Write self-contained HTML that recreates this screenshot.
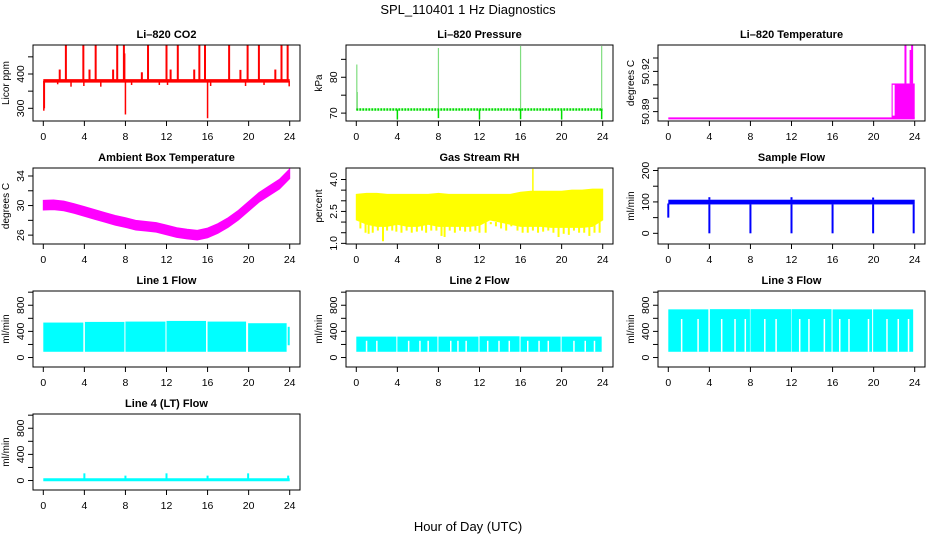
<!DOCTYPE html>
<html><head><meta charset="utf-8"><style>
html,body{margin:0;padding:0;background:#fff;}
svg{display:block;font-family:"Liberation Sans",Helvetica,sans-serif;}
.pt{font-size:11px;font-weight:bold;text-anchor:middle;}
.tk{font-size:10.5px;text-anchor:middle;}
.yl{font-size:10px;text-anchor:middle;}
</style></head><body>
<svg id="chart" width="936" height="540" viewBox="0 0 936 540">
<text x="468" y="14" style="font-size:13px" text-anchor="middle">SPL_110401  1 Hz Diagnostics</text>
<text x="468" y="531" style="font-size:13px" text-anchor="middle">Hour of Day (UTC)</text>
</svg>
<script>
// ---- data ----
const xTicks = [0,4,8,12,16,20,24];
// CO2
const co2Base = 380;
const co2SpikeHours = [2.2,3.9,5.1,7.2,7.85,10.2,12.0,13.1,15.2,15.75,18.1,19.9,21.0,23.2,23.8];
const co2SpikeTops = [484,484,484,484,484,484,484,484,484,484,484,484,484,484,484];
const co2SmallHours = [1.6,4.5,6.8,9.6,12.4,14.7,19.2,22.6,7.9];
const co2SmallTops = [413,413,413,405,413,413,412,413,460];
const co2DipHours = [0.05,0.1,1.4,2.7,3.95,5.6,8.0,8.6,11.3,12.1,16.0,16.3,19.7,21.5,23.95];
const co2DipLows = [293,300,370,363,365,363,282,368,368,368,271,365,365,368,364];
// Pressure
const presBase = 71;
const presSpikeHours = [0.05,0.1,8.0,16.0,23.9];
const presSpikeTops = [83.5,76,88.3,89,88.6];
const presDipHours = [4,8,12,16,20,23.9];
const presDipLows = [68.2,68.6,68.2,68.3,68.2,68.3];
// Li-820 temperature
const tempBase = 50.885;
const tempStepStart = 21.75, tempStepLevel = 50.911;
const tempGapHours = [21.95];
const tempSpikeHours = [23.1,23.6,23.75];
const tempSpikeTops = [50.94,50.936,50.94];
// Ambient box temperature (hourly centre)
const ambHours = [0,1,2,3,4,5,6,7,8,9,10,11,12,13,14,15,16,17,18,19,20,21,22,23,24];
const ambMid = [30.05,30.1,29.95,29.6,29.2,28.8,28.4,28.0,27.7,27.35,27.2,27.05,26.7,26.35,26.15,26.0,26.3,26.9,27.7,28.7,29.9,31.1,32.0,32.9,34.3];
// Gas stream RH
const rhTop = [3.3,3.35,3.35,3.3,3.3,3.3,3.3,3.3,3.35,3.3,3.3,3.3,3.3,3.3,3.3,3.3,3.4,3.45,3.45,3.45,3.45,3.5,3.5,3.55,3.55];
const rhMid = [2.1,1.9,1.8,1.8,1.9,1.8,1.8,1.9,1.8,1.8,1.8,1.8,1.85,2.1,2.0,1.9,1.8,1.8,1.8,1.75,1.75,1.75,1.75,1.8,2.1];
const rhStreakHours = [0.4,0.9,1.2,1.6,2.1,2.6,3.0,3.5,3.9,4.4,4.9,5.4,5.9,6.4,6.8,7.3,7.8,8.3,8.6,9.1,9.6,10.1,10.6,11.1,11.6,12.0,12.6,13.1,13.6,14.1,14.6,15.1,15.7,16.2,16.7,17.2,17.7,18.2,18.7,19.2,19.7,20.2,20.7,21.2,21.7,22.2,22.7,23.2,23.7];
const rhStreakLows = [1.7,1.5,1.45,1.5,1.6,1.1,1.6,1.6,1.55,1.5,1.6,1.5,1.55,1.6,1.5,1.6,1.6,1.35,1.3,1.6,1.5,1.6,1.55,1.55,1.6,1.5,1.5,1.9,1.8,1.7,1.6,1.8,1.6,1.5,1.5,1.6,1.5,1.55,1.6,1.5,1.3,1.45,1.4,1.6,1.5,1.5,1.35,1.5,1.5];
const rhSpikeHour = 17.2, rhSpikeTop = 4.5;
// Sample flow
const sfLow = 92, sfHigh = 107;
const sfDipHours = [4.0,8.0,12.0,16.0,19.95,23.9];
const sfSpikeHours = [4.0,12.0,19.95];
const sfSpikeTops = [115,115,114];
// Line flows (blocks between purge gaps)
const flowBottom = 88;
const l1Starts = [0,4.05,8.0,12.0,16.0,19.95];
const l1Ends = [3.9,7.9,11.9,15.85,19.75,23.7];
const l1Tops = [535,545,550,560,550,525];
const l1TailHour = 24.0, l1TailTop = 470;
const l2Starts = [0,4.0,8.0,12.0,16.0,20.0];
const l2Ends = [3.9,7.9,11.9,15.9,19.9,23.9];
const l2Tops = [320,320,320,325,320,320];
const l2Gaps = [1.0,2.0,5.1,6.2,7.0,9.2,9.9,10.7,12.8,13.9,14.9,16.7,17.8,18.7,21.2,22.3,23.2];
const l3Starts = [0,4.05,8.0,12.0,16.0,19.95];
const l3Ends = [3.9,7.95,11.95,15.9,19.85,23.85];
const l3Tops = [737,740,740,740,737,737];
const l3Gaps = [1.3,2.9,5.2,6.5,7.5,9.4,10.5,12.8,13.7,15.2,16.7,17.6,19.5,21.3,22.4,23.4];
// Line 4 flow
const l4Base = 12;
const l4SpikeHours = [4.0,8.0,12.0,16.0,19.95,23.85];
const l4SpikeTops = [110,75,110,75,110,75];

// ---- drawing ----
const svg = document.getElementById('chart');
const NS = 'http://www.w3.org/2000/svg';
function mk(tag, attrs, parent){const e=document.createElementNS(NS,tag);for(const k in attrs)e.setAttribute(k,attrs[k]);(parent||svg).appendChild(e);return e;}
const colL=[33,346,658], rowT=[45,168,291,414], PW=267, PH=76;

function panel(col,row,ymin,ymax,yTickVals,yLabelVals,title,ylab,name){
  const L=colL[col],T=rowT[row],R=L+PW,B=T+PH;
  const g=mk('g',{});
  
  
  const xs=h=>L+10.3+h*(PW-20.6)/24;
  const ys=v=>B-(v-ymin)/(ymax-ymin)*PH;
  const marks=mk('g',{},g);
  
  
  const box=mk('rect',{x:L,y:T,width:PW,height:PH,fill:'none',stroke:'#000','stroke-width':1},g);
  
  
  const t=mk('text',{x:(L+R)/2,y:T-7,class:'pt'},g); t.textContent=title;
  
  
  const xa=mk('g',{},g);
  
  
  xTicks.forEach(h=>{mk('line',{x1:xs(h),x2:xs(h),y1:B,y2:B+5,stroke:'#000'},xa);
    const tx=mk('text',{x:xs(h),y:B+19,class:'tk'},xa);tx.textContent=h;});
  const ya=mk('g',{},g);
  
  
  yTickVals.forEach(v=>mk('line',{x1:L-5,x2:L,y1:ys(v),y2:ys(v),stroke:'#000'},ya));
  yLabelVals.forEach(v=>{const tx=mk('text',{x:0,y:0,class:'tk',transform:`translate(${L-9},${ys(v)}) rotate(-90)`},ya);tx.textContent=v;});
  const yl=mk('text',{x:0,y:0,class:'yl',transform:`translate(${L-24},${(T+B)/2}) rotate(-90)`},g);yl.textContent=ylab;
  
  
  return {xs,ys,g:marks};
}
function vline(p,h,v1,v2,c,w){return mk('line',{x1:p.xs(h),x2:p.xs(h),y1:p.ys(v1),y2:p.ys(v2),stroke:c,'stroke-width':w||1.5},p.g);}
function band(p,hours,hi,lo,c){let pts=hours.map((h,i)=>p.xs(h)+','+p.ys(hi[i]));pts=pts.concat(hours.slice().reverse().map((h,i)=>p.xs(h)+','+p.ys(lo[hours.length-1-i])));return mk('polygon',{points:pts.join(' '),fill:c,stroke:c,'stroke-width':1},p.g);}

// CO2
let p=panel(0,0,263,484.5,[300,350,400,450],[300,400],'Li\u2013820 CO2','Licor ppm','co2');
mk('line',{x1:p.xs(0),x2:p.xs(24),y1:p.ys(co2Base),y2:p.ys(co2Base),stroke:'#f00','stroke-width':3.5},p.g);
co2SpikeHours.forEach((h,i)=>vline(p,h,co2Base,co2SpikeTops[i],'#f00',2));
co2SmallHours.forEach((h,i)=>vline(p,h,co2Base,co2SmallTops[i],'#f00',2));
co2DipHours.forEach((h,i)=>vline(p,h,co2Base,co2DipLows[i],'#f00',1.5));

// Pressure
p=panel(1,0,67.8,89,[70,75,80,85],[70,80],'Li\u2013820 Pressure','kPa','pressure');
mk('line',{x1:p.xs(0),x2:p.xs(24),y1:p.ys(presBase),y2:p.ys(presBase),stroke:'#0d0','stroke-width':2.5,'stroke-dasharray':'2,1'},p.g);
presSpikeHours.forEach((h,i)=>{const l=vline(p,h,presBase,presSpikeTops[i],'#0b0',1.2);l.setAttribute('stroke-dasharray','1,1');});
presDipHours.forEach((h,i)=>vline(p,h,presBase,presDipLows[i],'#0d0',1.5));

// Li-820 Temperature
p=panel(2,0,50.883,50.9397,[50.89,50.9,50.91,50.92,50.93],['50.89','50.92'],'Li\u2013820 Temperature','degrees C','li820-temperature');
mk('line',{x1:p.xs(0),x2:p.xs(24),y1:p.ys(tempBase),y2:p.ys(tempBase),stroke:'#f0f','stroke-width':2},p.g);
mk('rect',{x:p.xs(tempStepStart),y:p.ys(tempStepLevel),width:p.xs(24)-p.xs(tempStepStart),height:p.ys(tempBase)-p.ys(tempStepLevel),fill:'#f0f'},p.g);
tempGapHours.forEach(h=>vline(p,h,tempBase+0.002,tempStepLevel-0.001,'#fff',2));
tempSpikeHours.forEach((h,i)=>vline(p,h,tempStepLevel,tempSpikeTops[i],'#f0f',2));

// Ambient
p=panel(0,1,24.8,35.08,[26,28,30,32,34],[26,30,34],'Ambient Box Temperature','degrees C','ambient-temperature');
band(p,ambHours,ambMid.map(v=>v+0.65),ambMid.map(v=>v-0.65),'#f0f');

// RH
p=panel(1,1,0.97,4.54,[1,1.5,2,2.5,3,3.5,4],['1.0','2.5','4.0'],'Gas Stream RH','percent','gas-stream-rh');
band(p,ambHours,rhTop,rhMid,'#ff0');
rhStreakHours.forEach((h,i)=>vline(p,h,2.0,rhStreakLows[i],'#ff0',2));
vline(p,rhSpikeHour,3.4,rhSpikeTop,'#ff0',1.5);

// Sample flow
p=panel(2,1,-34,208,[0,50,100,150,200],[0,100,200],'Sample Flow','ml/min','sample-flow');
mk('rect',{x:p.xs(0),y:p.ys(sfHigh),width:p.xs(24)-p.xs(0),height:p.ys(sfLow)-p.ys(sfHigh),fill:'#00f'},p.g);
vline(p,0,95,50,'#00f',2);
sfDipHours.forEach(h=>vline(p,h,sfLow,0,'#00f',2));
sfSpikeHours.forEach((h,i)=>vline(p,h,sfHigh,sfSpikeTops[i],'#00f',2));

// Line flows
const fy=[0,200,400,600,800,1000], fl=[0,400,800];
function blocks(p,st,en,tp,gaps){st.forEach((s,i)=>mk('rect',{x:p.xs(s),y:p.ys(tp[i]),width:p.xs(en[i])-p.xs(s),height:p.ys(flowBottom)-p.ys(tp[i]),fill:'#0ff'},p.g));
  (gaps||[]).forEach(h=>vline(p,h,flowBottom,Math.min(...tp)*0.8,'#fff',1.5));}
p=panel(0,2,-145,1018,fy,fl,'Line 1 Flow','ml/min','line1-flow');
blocks(p,l1Starts,l1Ends,l1Tops);
mk('rect',{x:p.xs(l1TailHour)-2,y:p.ys(l1TailTop),width:2,height:p.ys(flowBottom+100)-p.ys(l1TailTop),fill:'#0ff'},p.g);
p=panel(1,2,-145,1018,fy,fl,'Line 2 Flow','ml/min','line2-flow');
blocks(p,l2Starts,l2Ends,l2Tops,l2Gaps);
p=panel(2,2,-145,1018,fy,fl,'Line 3 Flow','ml/min','line3-flow');
blocks(p,l3Starts,l3Ends,l3Tops,l3Gaps);
p=panel(0,3,-145,1018,fy,fl,'Line 4 (LT) Flow','ml/min','line4-flow');
mk('line',{x1:p.xs(0),x2:p.xs(24),y1:p.ys(l4Base),y2:p.ys(l4Base),stroke:'#0ff','stroke-width':3},p.g);
l4SpikeHours.forEach((h,i)=>vline(p,h,l4Base,l4SpikeTops[i],'#0ff',2));
</script>
</body></html>
